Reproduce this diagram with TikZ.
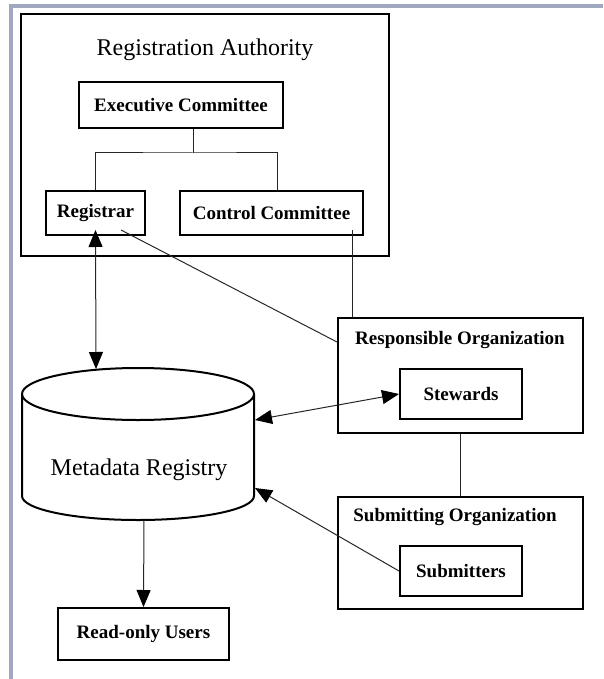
\documentclass[tikz,border=0pt]{standalone}
\usepackage{fontspec}
\setmainfont{Liberation Serif}
\usetikzlibrary{arrows.meta,positioning}
\definecolor{framegray}{RGB}{160,168,192}

\begin{document}
\begin{tikzpicture}[
  x=1pt, y=-1pt,
  lbl/.style={font=\bfseries\fontsize{19}{21}\selectfont},
  bigtext/.style={font=\fontsize{24}{28}\selectfont},
  box/.style={draw,line width=2pt,inner sep=0pt,lbl},
  orgbox/.style={draw,line width=2pt,inner sep=0pt},
  link/.style={draw=black!85,line width=1pt},
  tip/.tip={Triangle[length=17pt,width=14pt,black]},
  arr/.style={link,-tip},
  dblarr/.style={link,tip-tip}
  ]
  \useasboundingbox (0,0) rectangle (603,679);
  \draw[framegray,line width=4pt] (11,679) -- (11,6) -- (603,6);

  % registration authority
  \node[orgbox,minimum width=368pt,minimum height=242pt] (ra) at (205,135) {};
  \node[bigtext] (ratitle) at (205,50) {Registration Authority};
  \node[box,minimum width=204pt,minimum height=46pt] (exec) at (181,105) {Executive Committee};
  \node[box,minimum width=99pt,minimum height=44pt] (reg) at (95.5,213) {Registrar};
  \node[box,minimum width=183pt,minimum height=44pt] (cc) at (271.5,213) {Control Committee};
  \coordinate (fork) at (193,153);
  \draw[link] ([xshift=12pt]exec.south) -- (fork);
  \draw[link] (reg.north) |- (fork) -| ([xshift=6pt]cc.north);

  % metadata registry
  \draw[line width=2pt] (138,394) ellipse [x radius=116, y radius=26];
  \draw[line width=2pt] (22,394) -- (22,496)
    arc [start angle=180, end angle=0, x radius=116, y radius=24] -- (254,394);
  \node[bigtext] (mdr) at (139,470) {Metadata Registry};
  \coordinate (mdrtop) at (96,369);
  \coordinate (mdrstew) at (255,420);
  \coordinate (mdrsub) at (255,488);
  \coordinate (mdrbot) at (144,520);

  \node[box,minimum width=171pt,minimum height=52pt] (ro) at (143.5,634) {Read-only Users};

  % organizations
  \node[orgbox,minimum width=245pt,minimum height=115pt] (resp) at (460.5,375.5) {};
  \node[lbl] (resptitle) at (460,340) {Responsible Organization};
  \node[box,minimum width=122pt,minimum height=50pt] (stew) at (461,394) {Stewards};
  \node[orgbox,minimum width=245pt,minimum height=112pt] (subm) at (460.5,553) {};
  \node[lbl] (submtitle) at (455,517) {Submitting Organization};
  \node[box,minimum width=122pt,minimum height=50pt] (submr) at (461,571) {Submitters};

  \draw[dblarr] ([yshift=6pt]reg.south) -- (mdrtop);
  \draw[link] ([shift={(-25,-6)}]reg.south east) -- ([yshift=-25pt]resp.north west);
  \draw[link] ([shift={(-12,-6)}]cc.south east) -- ([xshift=-12pt]cc.south east |- resp.north);
  \draw[dblarr] (stew.west) -- (mdrstew);
  \draw[arr] (submr.west) -- (mdrsub);
  \draw[arr] (mdrbot) -- (ro.north);
  \draw[link] (resp.south) -- (subm.north);
\end{tikzpicture}
\end{document}
